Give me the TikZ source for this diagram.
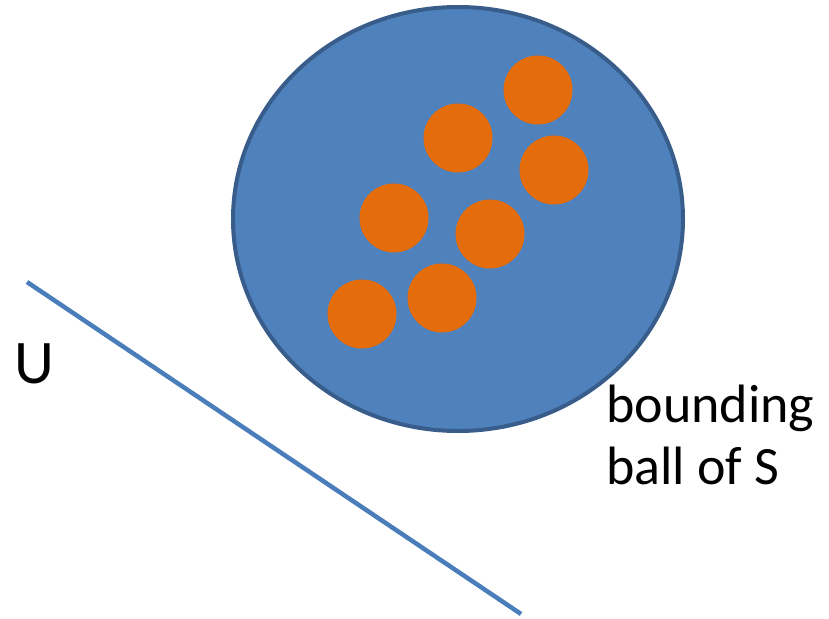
\documentclass[tikz,border=0pt]{standalone}
\usepackage{fontspec}
\setmainfont{Carlito}
\usepackage{tikz}
\usetikzlibrary{shapes.geometric}
\definecolor{ballblue}{HTML}{4F81BD}
\definecolor{balledge}{HTML}{385D8A}
\definecolor{pointorange}{HTML}{E46C0A}
\definecolor{planeblue}{HTML}{4A7EBB}

\begin{document}
\begin{tikzpicture}[
  x=1pt, y=-1pt,
  ball/.style={ellipse, draw=balledge, fill=ballblue, line width=4pt, inner sep=0pt, minimum width=450, minimum height=424},
  pt/.style={circle, fill=pointorange, inner sep=0pt, minimum size=69},
  plane/.style={draw=planeblue, line width=4.5pt},
  lbl/.style={inner sep=0pt, align=left, font=\fontsize{54}{62}\selectfont}
]
\useasboundingbox (0,0) rectangle (829,618);
\node[ball] (ball) at (458,219) {};
\node[pt] (p1) at (538,90) {};
\node[pt] (p2) at (458,138) {};
\node[pt] (p3) at (554,170) {};
\node[pt] (p4) at (394,218) {};
\node[pt] (p5) at (490,234) {};
\node[pt] (p6) at (442,298) {};
\node[pt] (p7) at (362,314) {};
\coordinate (u1) at (27,282);
\coordinate (u2) at (521,614);
\draw[plane] (u1) -- (u2);
\node[lbl, anchor=base west, font=\fontsize{62}{70}\selectfont] (ulbl) at (14,383) {U};
\node[lbl, anchor=north west] (blbl) at (606,385) {bounding\\ball of S};
\end{tikzpicture}
\end{document}
